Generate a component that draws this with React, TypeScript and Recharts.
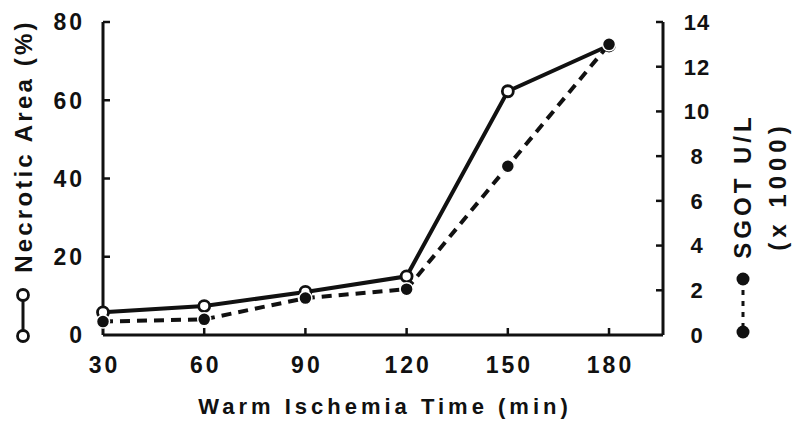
import React from 'react';
import { LineChart, Line, XAxis, YAxis, Customized } from 'recharts';

const minutes = [30, 60, 90, 120, 150, 180];
const necroticArea = [5.8, 7.4, 11, 15, 62.3, 74];
const sgot = [0.6, 0.7, 1.65, 2.05, 7.55, 13.0];
const xTicks = [30, 60, 90, 120, 150, 180];
const leftTicks = [0, 20, 40, 60, 80];
const rightTicks = [0, 2, 4, 6, 8, 10, 12, 14];

const data = minutes.map((m, i) => ({ min: m, area: necroticArea[i], sgot: sgot[i] }));

const FONT = '"Liberation Sans", Arial, sans-serif';
const INK = '#111';

const textStyle = { fontFamily: FONT, fontWeight: 700, fill: INK };

function LeftTick({ x, y, payload }: any) {
  return (
    <g>
      {payload.value !== 0 && <line x1={x} x2={x + 7} y1={y} y2={y} stroke={INK} strokeWidth={2.5} />}
      <text x={x - 18} y={y} dy="0.36em" textAnchor="end" fontSize={23} letterSpacing={3} {...textStyle}>
        {payload.value}
      </text>
    </g>
  );
}

function RightTick({ x, y, payload }: any) {
  return (
    <g>
      {payload.value !== 0 && <line x1={x} x2={x - 7} y1={y} y2={y} stroke={INK} strokeWidth={2.5} />}
      <text x={x + 34} y={y} dy="0.36em" textAnchor="middle" fontSize={22} letterSpacing={1} {...textStyle}>
        {payload.value}
      </text>
    </g>
  );
}

function BottomTick({ x, y, payload }: any) {
  return (
    <g>
      {payload.value !== 30 && <line x1={x} x2={x} y1={y} y2={y - 7} stroke={INK} strokeWidth={2.5} />}
      <text x={x + 1.5} y={y + 30} dy="0.36em" textAnchor="middle" fontSize={23} letterSpacing={3} {...textStyle}>
        {payload.value}
      </text>
    </g>
  );
}

function OpenDot({ cx, cy }: any) {
  if (cx == null || cy == null) return null;
  return <circle cx={cx} cy={cy} r={5.5} fill="#fff" stroke={INK} strokeWidth={2.8} />;
}

function FilledDot({ cx, cy }: any) {
  if (cx == null || cy == null) return null;
  return <circle cx={cx} cy={cy} r={6.5} fill={INK} stroke="#fff" strokeWidth={1.5} />;
}

function AxisTitles() {
  return (
    <g>
      {/* left title + open-circle legend */}
      <text
        transform="translate(32,146) rotate(-90)"
        textAnchor="middle"
        fontSize={24}
        letterSpacing={3.2}
        {...textStyle}
      >
        Necrotic Area (%)
      </text>
      <line x1={23} x2={23} y1={295} y2={336} stroke={INK} strokeWidth={3} />
      <circle cx={23} cy={295} r={5.5} fill="#fff" stroke={INK} strokeWidth={2.8} />
      <circle cx={23} cy={336} r={5.5} fill="#fff" stroke={INK} strokeWidth={2.8} />

      {/* right title + filled-circle legend */}
      <text
        transform="translate(751,186) rotate(-90)"
        textAnchor="middle"
        fontSize={24}
        letterSpacing={4}
        {...textStyle}
      >
        SGOT U/L
      </text>
      <text
        transform="translate(786,186) rotate(-90)"
        textAnchor="middle"
        fontSize={24}
        letterSpacing={5}
        {...textStyle}
      >
        (x 1000)
      </text>
      <line x1={743} x2={743} y1={279} y2={332} stroke={INK} strokeWidth={3} strokeDasharray="5 6" />
      <circle cx={743} cy={279} r={6.5} fill={INK} />
      <circle cx={743} cy={332} r={6.5} fill={INK} />

      {/* x title */}
      <text x={385} y={406} dy="0.36em" textAnchor="middle" fontSize={22} letterSpacing={4} {...textStyle}>
        Warm Ischemia Time (min)
      </text>
    </g>
  );
}

export default function App() {
  return (
    <div style={{ position: 'absolute', left: 0, top: 0, width: 800, height: 429, background: '#fff' }}>
      <LineChart width={800} height={429} data={data} margin={{ top: 22, right: 0, bottom: 0, left: 0 }}>
        <XAxis
          dataKey="min"
          type="number"
          domain={[30, 196]}
          ticks={xTicks}
          height={94}
          tickSize={0}
          tickMargin={0}
          tickLine={false}
          tick={<BottomTick />}
          axisLine={{ stroke: INK, strokeWidth: 3 }}
        />
        <YAxis
          yAxisId="left"
          orientation="left"
          domain={[0, 80]}
          ticks={leftTicks}
          width={103}
          tickSize={0}
          tickMargin={0}
          tickLine={false}
          tick={<LeftTick />}
          axisLine={{ stroke: INK, strokeWidth: 3 }}
        />
        <YAxis
          yAxisId="right"
          orientation="right"
          domain={[0, 14]}
          ticks={rightTicks}
          width={137}
          tickSize={0}
          tickMargin={0}
          tickLine={false}
          tick={<RightTick />}
          axisLine={{ stroke: INK, strokeWidth: 3 }}
        />
        <Line
          yAxisId="left"
          dataKey="area"
          stroke={INK}
          strokeWidth={4}
          dot={<OpenDot />}
          activeDot={false}
          isAnimationActive={false}
        />
        <Line
          yAxisId="right"
          dataKey="sgot"
          stroke={INK}
          strokeWidth={4}
          strokeDasharray="10 7"
          dot={<FilledDot />}
          activeDot={false}
          isAnimationActive={false}
        />
        <Customized component={AxisTitles} />
      </LineChart>
    </div>
  );
}
